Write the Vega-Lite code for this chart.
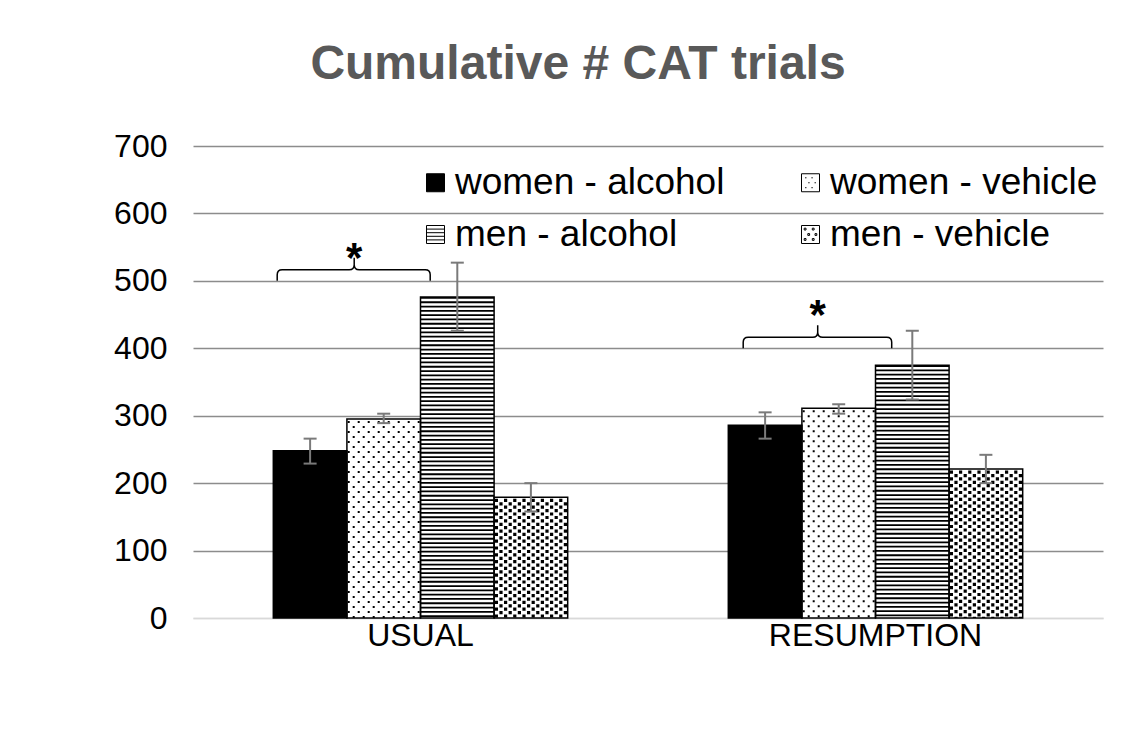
{
  "$schema": "https://vega.github.io/schema/vega-lite/v6.json",
  "width": 910,
  "height": 472,
  "autosize": "none",
  "padding": {"left": 193, "top": 146, "right": 27, "bottom": 124},
  "background": "white",
  "config": {"font": "Liberation Sans", "view": {"stroke": null}},
  "title": {"text": "Cumulative # CAT trials", "fontSize": 48, "font": "Liberation Sans", "fontWeight": "bold", "color": "#595959", "anchor": "middle", "frame": "group", "dx": -70, "offset": 41},
  "datasets": {
    "bars": [
      {"group": "USUAL", "series": "women - alcohol", "value": 248, "lo": 229, "hi": 266},
      {"group": "USUAL", "series": "women - vehicle", "value": 295, "lo": 289, "hi": 303},
      {"group": "USUAL", "series": "men - alcohol", "value": 476, "lo": 426, "hi": 527},
      {"group": "USUAL", "series": "men - vehicle", "value": 179, "lo": 158, "hi": 200},
      {"group": "RESUMPTION", "series": "women - alcohol", "value": 286, "lo": 266, "hi": 305},
      {"group": "RESUMPTION", "series": "women - vehicle", "value": 311, "lo": 303, "hi": 317},
      {"group": "RESUMPTION", "series": "men - alcohol", "value": 375, "lo": 324, "hi": 426},
      {"group": "RESUMPTION", "series": "men - vehicle", "value": 221, "lo": 200, "hi": 242}
    ],
    "notes": [
      {"group": "USUAL", "series": "women - vehicle", "brace": 500, "star": 513},
      {"group": "RESUMPTION", "series": "women - vehicle", "brace": 400, "star": 428}
    ]
  },
  "data": {"name": "bars"},
  "encoding": {
    "x": {"field": "group", "type": "nominal", "sort": ["USUAL", "RESUMPTION"], "scale": {"paddingInner": 0.353, "paddingOuter": 0.1765},
      "axis": {"title": null, "labelAngle": 0, "labelFontSize": 32, "labelColor": "#000", "labelPadding": 2, "labelLimit": 400, "ticks": false, "domainColor": "#d9d9d9", "domainWidth": 1.5}},
    "xOffset": {"field": "series", "type": "nominal", "sort": ["women - alcohol", "women - vehicle", "men - alcohol", "men - vehicle"],
      "scale": {"domain": ["women - alcohol", "women - vehicle", "men - alcohol", "men - vehicle"], "paddingInner": 0, "paddingOuter": 0}},
    "y": {"field": "value", "type": "quantitative", "scale": {"domain": [0, 700], "nice": false},
      "axis": {"title": null, "values": [0, 100, 200, 300, 400, 500, 600, 700], "labelFontSize": 32, "labelColor": "#000", "labelPadding": 26, "domain": false, "ticks": false,
        "gridColor": {"condition": {"test": "datum.value === 0", "value": "#d9d9d9"}, "value": "#8c8c8c"}, "gridWidth": 1.4}}
  },
  "layer": [
    {"mark": {"type": "bar", "strokeWidth": 0},
     "encoding": {"fill": {"condition": {"test": "datum.series === 'women - alcohol'", "value": "#000000"}, "value": "#ffffff"}}},
    {"transform": [{"filter": "datum.series === 'men - alcohol'"}],
     "mark": {"type": "rule", "color": "#000000", "strokeWidth": 73.6, "strokeDash": [1.8, 2.5], "strokeCap": "butt"},
     "encoding": {"y2": {"datum": 0}}},
    {"transform": [{"filter": "datum.series === 'women - vehicle'"}],
     "mark": {"type": "point", "shape": "M-35 2V480M-30 7V480M-25 2V480M-20 7V480M-15 2V480M-10 7V480M-5 2V480M0 7V480M5 2V480M10 7V480M15 2V480M20 7V480M25 2V480M30 7V480M35 2V480", "size": 4, "filled": false, "stroke": "#000000", "strokeWidth": 2, "strokeDash": [2, 8], "strokeCap": "butt", "opacity": 1, "clip": true}},
    {"transform": [{"filter": "datum.series === 'men - vehicle'"}],
     "mark": {"type": "point", "shape": "M-34.5 1.5V480M-29.9 5V480M-25.3 1.5V480M-20.7 5V480M-16.1 1.5V480M-11.5 5V480M-6.9 1.5V480M-2.3 5V480M2.3 1.5V480M6.9 5V480M11.5 1.5V480M16.1 5V480M20.7 1.5V480M25.3 5V480M29.9 1.5V480M34.5 5V480", "size": 4, "filled": false, "stroke": "#000000", "strokeWidth": 3.2, "strokeDash": [3.2, 3.6], "strokeCap": "butt", "opacity": 1, "clip": true}},
    {"mark": {"type": "bar", "fill": "transparent", "stroke": "#000000", "strokeWidth": 1.5}},
    {"mark": {"type": "rule", "color": "#7a7a7a", "strokeWidth": 2},
     "encoding": {"y": {"field": "lo", "type": "quantitative"}, "y2": {"field": "hi"}}},
    {"mark": {"type": "point", "shape": "stroke", "size": 169, "filled": false, "stroke": "#7a7a7a", "strokeWidth": 2, "opacity": 1},
     "encoding": {"y": {"field": "lo", "type": "quantitative"}}},
    {"mark": {"type": "point", "shape": "stroke", "size": 169, "filled": false, "stroke": "#7a7a7a", "strokeWidth": 2, "opacity": 1},
     "encoding": {"y": {"field": "hi", "type": "quantitative"}}},
    {"mark": {"type": "point", "filled": true, "opacity": 0, "strokeWidth": 1},
     "encoding": {
       "fill": {"field": "series", "type": "nominal", "scale": {"domain": ["women - alcohol", "women - vehicle", "men - alcohol", "men - vehicle"], "range": ["#000000", "#ffffff", "#ffffff", "#ffffff"]},
         "legend": {"title": null, "orient": "none", "direction": "horizontal", "legendX": 224, "legendY": 18, "columns": 2, "labelFontSize": 37, "labelColor": "#000", "labelLimit": 600, "labelOffset": 1, "symbolSize": 324, "symbolStrokeWidth": 1, "symbolOpacity": 1, "rowPadding": 14, "columnPadding": 67, "padding": 0}},
       "stroke": {"field": "series", "type": "nominal", "scale": {"domain": ["women - alcohol", "women - vehicle", "men - alcohol", "men - vehicle"], "range": ["#000000", "#000000", "#000000", "#000000"]},
         "legend": {"title": null, "orient": "none", "direction": "horizontal", "legendX": 224, "legendY": 18, "columns": 2, "labelFontSize": 37, "labelColor": "#000", "labelLimit": 600, "labelOffset": 1, "symbolSize": 324, "symbolStrokeWidth": 1, "symbolOpacity": 1, "rowPadding": 14, "columnPadding": 67, "padding": 0}},
       "shape": {"field": "series", "type": "nominal", "scale": {"domain": ["women - alcohol", "women - vehicle", "men - alcohol", "men - vehicle"],
           "range": ["M-1 -1H1V1H-1Z", "M-1 -1H1V1H-1ZM-0.6 -0.55h0.15M0.1 -0.55h0.15M-0.25 0h0.15M0.45 0h0.15M-0.6 0.55h0.15M0.1 0.55h0.15", "M-1 -1H1V1H-1ZM-1 -0.6H1M-1 -0.2H1M-1 0.2H1M-1 0.6H1", "M-1 -1H1V1H-1ZM-0.7 -0.7h0.2v0.2h-0.2ZM0.2 -0.7h0.2v0.2h-0.2ZM-0.3 -0.1h0.2v0.2h-0.2ZM0.5 -0.1h0.2v0.2h-0.2ZM-0.7 0.45h0.2v0.2h-0.2ZM0.2 0.45h0.2v0.2h-0.2Z"]},
         "legend": {"title": null, "orient": "none", "direction": "horizontal", "legendX": 224, "legendY": 18, "columns": 2, "labelFontSize": 37, "labelColor": "#000", "labelLimit": 600, "labelOffset": 1, "symbolSize": 324, "symbolStrokeWidth": 1, "symbolOpacity": 1, "rowPadding": 14, "columnPadding": 67, "padding": 0}}
     }},
    {"data": {"name": "notes"}, "transform": [{"filter": "datum.group === 'USUAL'"}],
     "mark": {"type": "point", "shape": "M-106.5 0V-6Q-106.5 -11 -101.5 -11H-34.5Q-29.5 -11 -29.5 -16V-23V-16Q-29.5 -11 -24.5 -11H41.5Q46.5 -11 46.5 -6V0", "size": 4, "filled": false, "stroke": "#000000", "strokeWidth": 1.5, "opacity": 1},
     "encoding": {"y": {"field": "brace", "type": "quantitative"}}},
    {"data": {"name": "notes"}, "transform": [{"filter": "datum.group === 'RESUMPTION'"}],
     "mark": {"type": "point", "shape": "M-95.5 0V-6Q-95.5 -11 -90.5 -11H-26Q-21 -11 -21 -16V-23V-16Q-21 -11 -16 -11H48Q53 -11 53 -6V0", "size": 4, "filled": false, "stroke": "#000000", "strokeWidth": 1.5, "opacity": 1},
     "encoding": {"y": {"field": "brace", "type": "quantitative"}}},
    {"data": {"name": "notes"}, "transform": [{"filter": "datum.group === 'USUAL'"}],
     "mark": {"type": "text", "text": "*", "fontSize": 42, "fontWeight": "bold", "baseline": "alphabetic", "align": "center", "dx": -29.5, "color": "#000000"},
     "encoding": {"y": {"field": "star", "type": "quantitative"}}},
    {"data": {"name": "notes"}, "transform": [{"filter": "datum.group === 'RESUMPTION'"}],
     "mark": {"type": "text", "text": "*", "fontSize": 42, "fontWeight": "bold", "baseline": "alphabetic", "align": "center", "dx": -21, "color": "#000000"},
     "encoding": {"y": {"field": "star", "type": "quantitative"}}}
  ]
}
